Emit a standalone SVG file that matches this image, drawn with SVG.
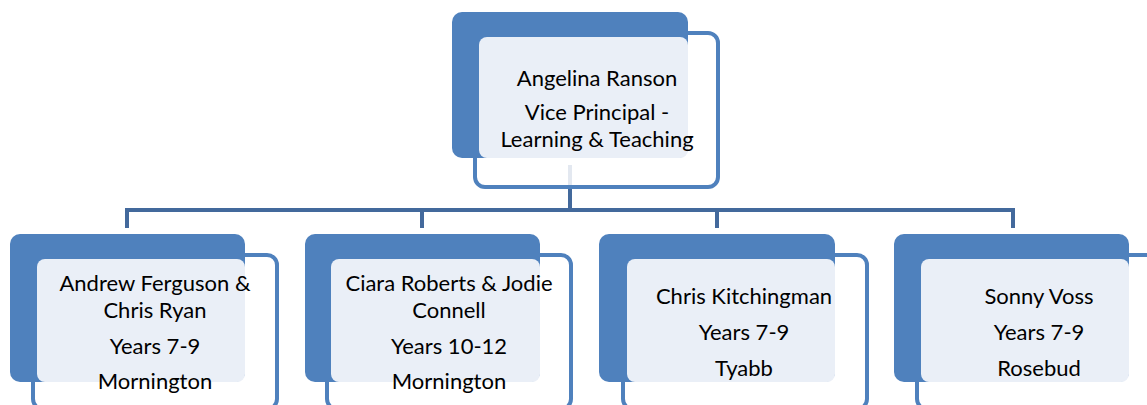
<svg xmlns="http://www.w3.org/2000/svg" width="1147" height="405" viewBox="0 0 1147 405">
<style>
.conn{fill:none;stroke:#43699c;stroke-width:4;stroke-linejoin:miter}
.frame{fill:#ffffff;fill-opacity:0.85;stroke:#4f81bd;stroke-width:4}
.dark{fill:#4f81bd}
.light{fill:#eaeff7}
.t{font-family:Lato,"Noto Sans",sans-serif;font-size:22px;fill:#000;text-anchor:middle}
</style>
<rect width="1147" height="405" fill="#ffffff"/>
<g id="connectors">
<path class="conn" d="M570,165 V210 M127,228 V210 H1013 V228 M422,210 V228 M717,210 V228"/>
</g>
<g id="n0">
<rect class="frame" x="475" y="33" width="243" height="154" rx="10"/>
<rect class="dark" x="452" y="12" width="236" height="146" rx="10"/>
<rect class="light" x="479" y="37" width="209" height="121" rx="8"/>
<text class="t" x="597" y="86">Angelina Ranson</text>
<text class="t" x="597" y="120">Vice Principal -</text>
<text class="t" x="597" y="147">Learning &amp; Teaching</text>
</g>
<g id="n1">
<rect class="frame" x="33" y="255" width="244" height="154" rx="10"/>
<rect class="dark" x="10" y="234" width="235" height="148" rx="10"/>
<rect class="light" x="37" y="259" width="208" height="123" rx="8"/>
<text class="t" x="155" y="291">Andrew Ferguson &amp;</text>
<text class="t" x="155" y="318">Chris Ryan</text>
<text class="t" x="155" y="354">Years 7-9</text>
<text class="t" x="155" y="389">Mornington</text>
</g>
<g id="n2">
<rect class="frame" x="327" y="255" width="244" height="154" rx="10"/>
<rect class="dark" x="305" y="234" width="235" height="148" rx="10"/>
<rect class="light" x="331" y="259" width="209" height="123" rx="8"/>
<text class="t" x="449" y="291">Ciara Roberts &amp; Jodie</text>
<text class="t" x="449" y="318">Connell</text>
<text class="t" x="449" y="354">Years 10-12</text>
<text class="t" x="449" y="389">Mornington</text>
</g>
<g id="n3">
<rect class="frame" x="623" y="255" width="244" height="154" rx="10"/>
<rect class="dark" x="599" y="234" width="236" height="148" rx="10"/>
<rect class="light" x="627" y="259" width="208" height="123" rx="8"/>
<text class="t" x="744" y="304">Chris Kitchingman</text>
<text class="t" x="744" y="340">Years 7-9</text>
<text class="t" x="744" y="376">Tyabb</text>
</g>
<g id="n4">
<rect class="frame" x="917" y="255" width="244" height="154" rx="10"/>
<rect class="dark" x="894" y="234" width="235" height="148" rx="10"/>
<rect class="light" x="921" y="259" width="208" height="123" rx="8"/>
<text class="t" x="1039" y="304">Sonny Voss</text>
<text class="t" x="1039" y="340">Years 7-9</text>
<text class="t" x="1039" y="376">Rosebud</text>
</g>
</svg>
